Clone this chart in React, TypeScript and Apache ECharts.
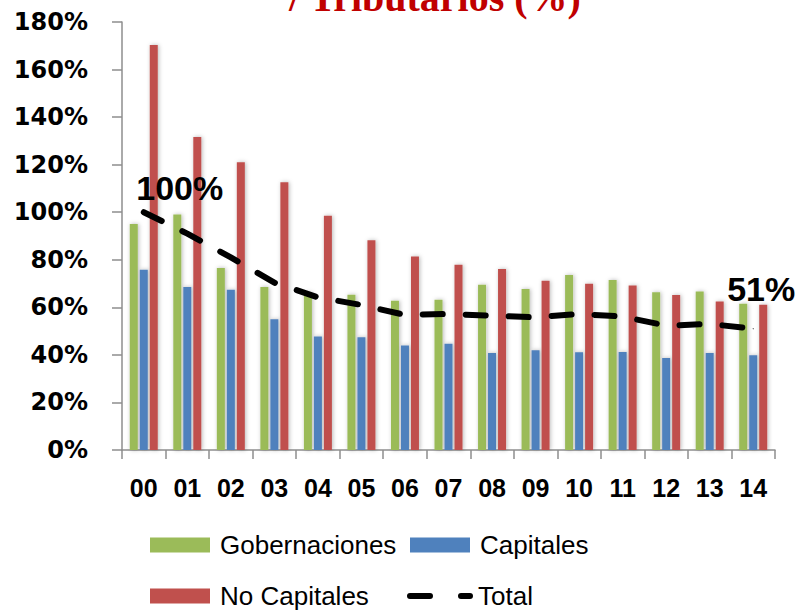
import React, { useEffect, useRef } from "react";
import * as echarts from "echarts";

const categories = ["00", "01", "02", "03", "04", "05", "06", "07", "08", "09", "10", "11", "12", "13", "14"];
const gobernaciones = [95, 99, 76.5, 68.5, 66.3, 65.3, 62.8, 63.2, 69.5, 67.7, 73.6, 71.5, 66.3, 66.7, 61.5];
const capitales = [75.8, 68.5, 67.4, 55, 47.7, 47.4, 43.9, 44.7, 40.8, 42, 41.1, 41.2, 38.7, 40.8, 39.8];
const noCapitales = [170.3, 131.6, 121, 112.6, 98.5, 88.2, 81.4, 77.9, 76.1, 71.2, 69.9, 69.2, 65.2, 62.5, 61.1];
const total = [100, 91, 81, 70.4, 64.2, 61, 56.8, 57.2, 56.5, 55.8, 57.2, 56.1, 52.3, 53, 51];
const yTicks = { min: 0, max: 180, interval: 20 };
const titleText = "/ Tributarios (%)";

const GREEN = "#9BBB59";
const BLUE = "#4F81BD";
const RED = "#C0504D";
const AXIS = "#8E8E8E";

const barShadow = {
  shadowBlur: 4,
  shadowColor: "rgba(0,0,0,0.28)",
  shadowOffsetX: 1,
  shadowOffsetY: 0,
};

const legendText = {
  fontFamily: "Liberation Sans",
  fontSize: 26,
  lineHeight: 26,
  color: "#000",
  padding: [0, 0, 0, 5],
};

export default function App() {
  const ref = useRef<HTMLDivElement>(null);
  useEffect(() => {
    if (!ref.current) return;
    const chart = echarts.init(ref.current, undefined, { renderer: "svg" });
    const last = total.length - 1;
    const totalData = total.map((v, i) => {
      if (i === 0) return { value: v, label: { show: true, offset: [36, -24] } };
      if (i === last) return { value: v, label: { show: true, offset: [8, -40] } };
      return { value: v, symbol: "none" };
    });
    chart.setOption({
      animation: false,
      backgroundColor: "#fff",
      grid: { left: 122, right: 23, top: 22, bottom: 162, containLabel: false, outerBoundsMode: "none" },
      graphic: [
        {
          type: "text",
          x: 435,
          y: -3,
          style: {
            text: titleText,
            font: 'bold 40px "Liberation Serif"',
            fill: "#C00000",
            align: "center",
            verticalAlign: "middle",
          },
        },
      ],
      legend: [
        { data: [{ name: "Gobernaciones", icon: "rect" }], left: 150, top: 532, itemWidth: 60, itemHeight: 15, padding: 0, textStyle: legendText },
        { data: [{ name: "Capitales", icon: "rect" }], left: 410, top: 532, itemWidth: 60, itemHeight: 15, padding: 0, textStyle: legendText },
        { data: [{ name: "No Capitales", icon: "rect" }], left: 150, top: 583, itemWidth: 60, itemHeight: 15, padding: 0, textStyle: legendText },
        {
          data: [
            {
              name: "Total",
              icon: "path://M3,0H23A3,3 0 0 1 23,6H3A3,3 0 0 1 3,0Z M54,0H63A3,3 0 0 1 63,6H54A3,3 0 0 1 54,0Z",
            },
          ],
          left: 407,
          top: 583,
          itemWidth: 66,
          itemHeight: 6,
          padding: 0,
          itemStyle: { borderWidth: 0, color: "#000" },
          textStyle: { ...legendText, padding: [0, 0, 0, 0] },
        },
      ],
      xAxis: {
        type: "category",
        data: categories,
        axisLine: { show: true, lineStyle: { color: AXIS, width: 1.5 } },
        axisTick: { show: true, length: 9, lineStyle: { color: AXIS, width: 1.5 } },
        axisLabel: {
          fontFamily: "Liberation Sans",
          fontWeight: "bold",
          fontSize: 25,
          color: "#000",
          margin: 25,
          interval: 0,
        },
        splitLine: { show: false },
      },
      yAxis: {
        type: "value",
        min: yTicks.min,
        max: yTicks.max,
        interval: yTicks.interval,
        axisLine: { show: true, lineStyle: { color: AXIS, width: 1.5 } },
        axisTick: { show: true, length: 10, lineStyle: { color: AXIS, width: 1.5 } },
        axisLabel: {
          formatter: "{value}%",
          fontFamily: "DejaVu Sans",
          fontWeight: "bold",
          fontSize: 24,
          color: "#000",
          margin: 34,
        },
        splitLine: { show: false },
      },
      series: [
        { name: "Gobernaciones", type: "bar", data: gobernaciones, barWidth: 8, barGap: "25%", itemStyle: { color: GREEN, ...barShadow } },
        { name: "Capitales", type: "bar", data: capitales, barWidth: 8, barGap: "25%", itemStyle: { color: BLUE, ...barShadow } },
        { name: "No Capitales", type: "bar", data: noCapitales, barWidth: 8, barGap: "25%", itemStyle: { color: RED, ...barShadow } },
        {
          name: "Total",
          type: "line",
          data: totalData,
          symbol: "circle",
          symbolSize: 1,
          showSymbol: true,
          itemStyle: { color: "#000", borderWidth: 0 },
          lineStyle: { color: "#000", width: 6, type: [20, 23], cap: "round" },
          label: {
            show: false,
            position: "inside",
            formatter: "{c}%",
            fontFamily: "Liberation Sans",
            fontWeight: "bold",
            fontSize: 34,
            color: "#000",
          },
          z: 5,
        },
      ],
    });
    return () => chart.dispose();
  }, []);
  return <div ref={ref} style={{ position: "fixed", left: 0, top: 0, width: 798, height: 612 }} />;
}
